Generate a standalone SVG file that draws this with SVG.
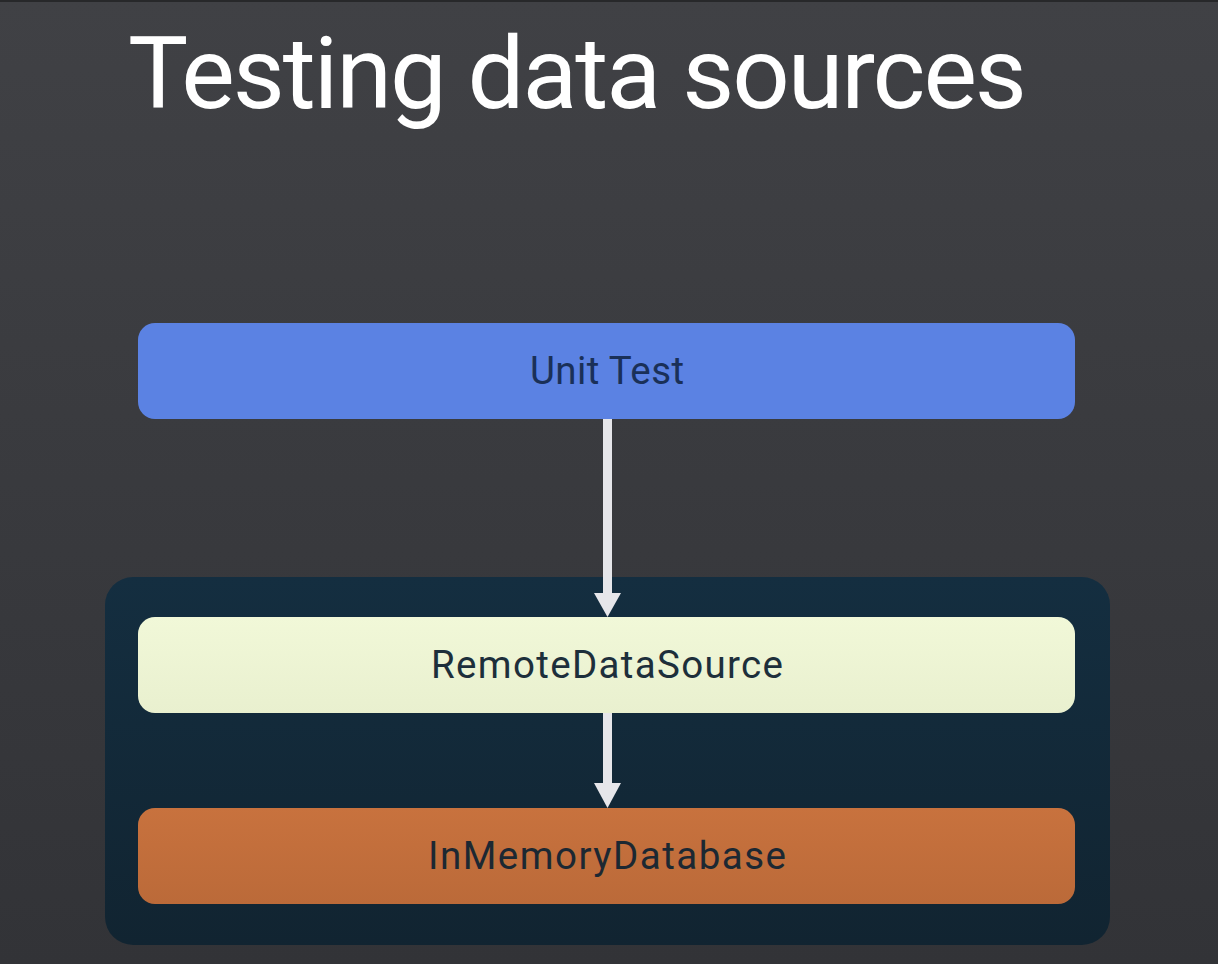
<svg xmlns="http://www.w3.org/2000/svg" width="1218" height="964" viewBox="0 0 1218 964">
  <defs>
    <linearGradient id="bg" x1="0" y1="0" x2="0" y2="1">
      <stop offset="0" stop-color="#404145"/>
      <stop offset="1" stop-color="#323337"/>
    </linearGradient>
    <linearGradient id="cont" x1="0" y1="0" x2="0" y2="1">
      <stop offset="0" stop-color="#142e40"/>
      <stop offset="1" stop-color="#112431"/>
    </linearGradient>
    <linearGradient id="remote" x1="0" y1="0" x2="0" y2="1">
      <stop offset="0" stop-color="#f1f8d8"/>
      <stop offset="1" stop-color="#e9f0cf"/>
    </linearGradient>
    <linearGradient id="mem" x1="0" y1="0" x2="0" y2="1">
      <stop offset="0" stop-color="#c8723e"/>
      <stop offset="1" stop-color="#bb6a39"/>
    </linearGradient>
    <style>
      .label { font-family: Roboto, "Open Sans", "Liberation Sans", sans-serif; font-size: 38.5px; text-anchor: middle; }
      .title { font-family: Roboto, "Open Sans", "Liberation Sans", sans-serif; font-size: 101px; fill: #ffffff; }
      .arrow { fill: #e6e6ea; }
    </style>
  </defs>
  <rect x="0" y="0" width="1218" height="964" fill="url(#bg)"/>
  <rect x="0" y="0" width="1218" height="2" fill="#27282a"/>
  <text class="title" x="128" y="108" textLength="899">Testing data sources</text>

  <g id="container">
    <rect x="105" y="577" width="1005" height="368" rx="28" fill="url(#cont)"/>
  </g>
  <g id="unit-test">
    <rect x="138" y="323" width="937" height="96" rx="17" fill="#5b82e3"/>
    <text class="label" x="607" y="384" fill="#1a3058" textLength="154">Unit Test</text>
  </g>
  <g id="remote-data-source">
    <rect x="138" y="617" width="937" height="96" rx="17" fill="url(#remote)"/>
    <text class="label" x="607" y="678" fill="#1d2f3b" textLength="352">RemoteDataSource</text>
  </g>
  <g id="in-memory-database">
    <rect x="138" y="808" width="937" height="96" rx="17" fill="url(#mem)"/>
    <text class="label" x="607" y="869" fill="#1c2832" textLength="358">InMemoryDatabase</text>
  </g>
  <g id="connectors">
    <rect class="arrow" x="603" y="419" width="9" height="175"/>
    <polygon class="arrow" points="594,593 621,593 607.5,617"/>
    <rect class="arrow" x="603" y="713" width="9" height="71"/>
    <polygon class="arrow" points="594,783 621,783 607.5,808"/>
  </g>
</svg>
